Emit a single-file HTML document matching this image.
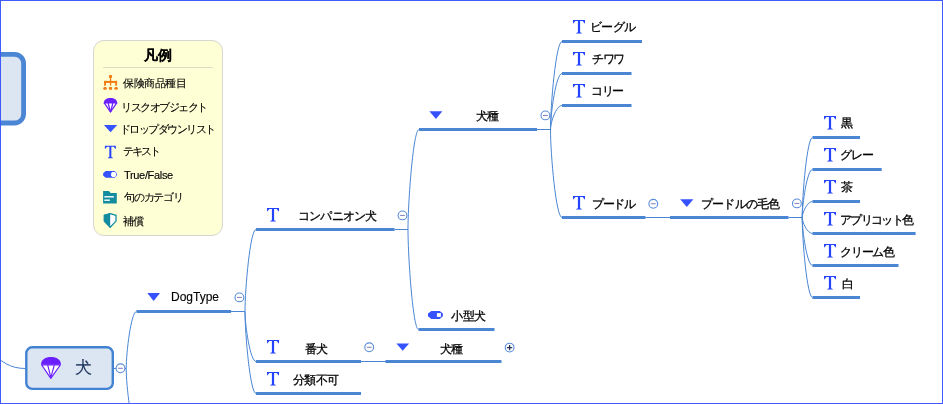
<!DOCTYPE html>
<html><head><meta charset="utf-8"><style>
html,body{margin:0;padding:0;background:#fff;}
body{width:943px;height:404px;position:relative;overflow:hidden;font-family:"Liberation Sans",sans-serif;}
.frame{position:absolute;left:0;top:0;width:941px;height:402px;border:1px solid #3f5bff;}
svg{position:absolute;left:0;top:0;}
.t{position:absolute;white-space:nowrap;will-change:transform;-webkit-text-stroke:0.3px currentColor;}
.lg{-webkit-text-stroke:0.12px currentColor !important;}
.n0{position:absolute;left:-30px;top:52px;width:51px;height:68px;border:5px solid #5089d6;border-radius:12px;background:#dce6f2;}
.root{position:absolute;left:25px;top:346px;width:83px;height:38px;border:3px solid #4f88d4;border-radius:7px;background:#dce6f2;}
.legend{position:absolute;left:93px;top:40px;width:128px;height:194px;border:1px solid #d6d6d2;border-radius:11px;background:#ffffd6;}
.sep{position:absolute;left:103px;top:67px;width:110px;height:1px;background:#dcdcc8;}
</style></head><body>
<div class="legend"></div>
<div class="sep"></div>
<svg width="943" height="404" viewBox="0 0 943 404">
<path d="M-12,350 C2,362 10,368.5 25.5,368.5" fill="none" stroke="#4a86d4" stroke-width="1"/>
<line x1="113.5" y1="368.5" x2="116" y2="368.5" stroke="#4a86d4" stroke-width="1"/>
<circle cx="120.5" cy="368.3" r="4.4" fill="#fff" stroke="#5a8dd8" stroke-width="1.1"/><line x1="118.1" y1="368.3" x2="122.9" y2="368.3" stroke="#7c7cbc" stroke-width="1"/>
<line x1="124.9" y1="368.5" x2="126.2" y2="368.5" stroke="#4a86d4" stroke-width="1"/>
<path d="M126.2,368.5 C126.2,352.54 131.14,311.5 136.5,311.5" fill="none" stroke="#4a86d4" stroke-width="1"/>
<path d="M126.2,368.5 C126.2,385.72 131.38,430 137,430" fill="none" stroke="#4a86d4" stroke-width="1"/>
<line x1="136.5" y1="311.5" x2="231" y2="311.5" stroke="#4a86d4" stroke-width="3"/>
<path fill="#3652ff" d="M147.3,292.9 H160.0 L153.65,300.9 Z"/>
<line x1="231" y1="311.5" x2="245" y2="311.5" stroke="#4a86d4" stroke-width="1"/>
<circle cx="239.4" cy="297.4" r="4.4" fill="#fff" stroke="#5a8dd8" stroke-width="1.1"/><line x1="237.0" y1="297.4" x2="241.8" y2="297.4" stroke="#7c7cbc" stroke-width="1"/>
<path d="M245,311.5 C245,288.54 250.28,229.5 256,229.5" fill="none" stroke="#4a86d4" stroke-width="1"/>
<path d="M245,311.5 C245,325.50 250.28,361.5 256,361.5" fill="none" stroke="#4a86d4" stroke-width="1"/>
<path d="M245,311.5 C245,334.46 250.28,393.5 256,393.5" fill="none" stroke="#4a86d4" stroke-width="1"/>
<line x1="256" y1="229.5" x2="394.5" y2="229.5" stroke="#4a86d4" stroke-width="3"/>
<path transform="translate(267,208)" fill="#2343ff" d="M0,0 H12 V3.8 L9.6,1.1 H7.1 V12.3 L8.8,12.9 V13.6 H3.2 V12.9 L4.9,12.3 V1.1 H2.4 L0,3.8 Z"/>
<line x1="394.5" y1="229.5" x2="408" y2="229.5" stroke="#4a86d4" stroke-width="1"/>
<circle cx="402.5" cy="215.4" r="4.4" fill="#fff" stroke="#5a8dd8" stroke-width="1.1"/><line x1="400.1" y1="215.4" x2="404.9" y2="215.4" stroke="#7c7cbc" stroke-width="1"/>
<path d="M408,229.5 C408,201.50 413.28,129.5 419,129.5" fill="none" stroke="#4a86d4" stroke-width="1"/>
<path d="M408,229.5 C408,257.50 413.04,329.5 418.5,329.5" fill="none" stroke="#4a86d4" stroke-width="1"/>
<line x1="419" y1="129.5" x2="537" y2="129.5" stroke="#4a86d4" stroke-width="3"/>
<path fill="#3652ff" d="M429.4,111.2 H442.4 L435.9,119.0 Z"/>
<line x1="537" y1="129.5" x2="550.5" y2="129.5" stroke="#4a86d4" stroke-width="1"/>
<circle cx="545.4" cy="115.4" r="4.4" fill="#fff" stroke="#5a8dd8" stroke-width="1.1"/><line x1="543.0" y1="115.4" x2="547.8" y2="115.4" stroke="#7c7cbc" stroke-width="1"/>
<path d="M550.5,129.5 C550.5,104.86 556.02,41.5 562,41.5" fill="none" stroke="#4a86d4" stroke-width="1"/>
<path d="M550.5,129.5 C550.5,113.82 556.02,73.5 562,73.5" fill="none" stroke="#4a86d4" stroke-width="1"/>
<path d="M550.5,129.5 C550.5,122.78 556.02,105.5 562,105.5" fill="none" stroke="#4a86d4" stroke-width="1"/>
<path d="M550.5,129.5 C550.5,154.14 556.02,217.5 562,217.5" fill="none" stroke="#4a86d4" stroke-width="1"/>
<line x1="562" y1="41.5" x2="642" y2="41.5" stroke="#4a86d4" stroke-width="3"/>
<path transform="translate(573,20.0)" fill="#2343ff" d="M0,0 H12 V3.8 L9.6,1.1 H7.1 V12.3 L8.8,12.9 V13.6 H3.2 V12.9 L4.9,12.3 V1.1 H2.4 L0,3.8 Z"/>
<line x1="562" y1="73.5" x2="631.5" y2="73.5" stroke="#4a86d4" stroke-width="3"/>
<path transform="translate(573,52.0)" fill="#2343ff" d="M0,0 H12 V3.8 L9.6,1.1 H7.1 V12.3 L8.8,12.9 V13.6 H3.2 V12.9 L4.9,12.3 V1.1 H2.4 L0,3.8 Z"/>
<line x1="562" y1="105.5" x2="631.5" y2="105.5" stroke="#4a86d4" stroke-width="3"/>
<path transform="translate(573,84.0)" fill="#2343ff" d="M0,0 H12 V3.8 L9.6,1.1 H7.1 V12.3 L8.8,12.9 V13.6 H3.2 V12.9 L4.9,12.3 V1.1 H2.4 L0,3.8 Z"/>
<line x1="562" y1="217.5" x2="645.5" y2="217.5" stroke="#4a86d4" stroke-width="3"/>
<path transform="translate(573,196.0)" fill="#2343ff" d="M0,0 H12 V3.8 L9.6,1.1 H7.1 V12.3 L8.8,12.9 V13.6 H3.2 V12.9 L4.9,12.3 V1.1 H2.4 L0,3.8 Z"/>
<line x1="645.5" y1="217.5" x2="670" y2="217.5" stroke="#4a86d4" stroke-width="1"/>
<circle cx="653.3" cy="203.8" r="4.4" fill="#fff" stroke="#5a8dd8" stroke-width="1.1"/><line x1="650.9" y1="203.8" x2="655.6999999999999" y2="203.8" stroke="#7c7cbc" stroke-width="1"/>
<line x1="670" y1="217.5" x2="788.5" y2="217.5" stroke="#4a86d4" stroke-width="3"/>
<path fill="#3652ff" d="M680.2,199.3 H693.4000000000001 L686.8000000000001,207.0 Z"/>
<line x1="788.5" y1="217.5" x2="802.2" y2="217.5" stroke="#4a86d4" stroke-width="1"/>
<circle cx="796.9" cy="203.4" r="4.4" fill="#fff" stroke="#5a8dd8" stroke-width="1.1"/><line x1="794.5" y1="203.4" x2="799.3" y2="203.4" stroke="#7c7cbc" stroke-width="1"/>
<path d="M802.2,217.5 C802.2,195.10 807.14,137.5 812.5,137.5" fill="none" stroke="#4a86d4" stroke-width="1"/>
<line x1="812.5" y1="137.5" x2="860" y2="137.5" stroke="#4a86d4" stroke-width="3"/>
<path transform="translate(824,116.0)" fill="#2343ff" d="M0,0 H12 V3.8 L9.6,1.1 H7.1 V12.3 L8.8,12.9 V13.6 H3.2 V12.9 L4.9,12.3 V1.1 H2.4 L0,3.8 Z"/>
<path d="M802.2,217.5 C802.2,204.06 807.14,169.5 812.5,169.5" fill="none" stroke="#4a86d4" stroke-width="1"/>
<line x1="812.5" y1="169.5" x2="881.7" y2="169.5" stroke="#4a86d4" stroke-width="3"/>
<path transform="translate(824,148.0)" fill="#2343ff" d="M0,0 H12 V3.8 L9.6,1.1 H7.1 V12.3 L8.8,12.9 V13.6 H3.2 V12.9 L4.9,12.3 V1.1 H2.4 L0,3.8 Z"/>
<path d="M802.2,217.5 C802.2,213.02 807.14,201.5 812.5,201.5" fill="none" stroke="#4a86d4" stroke-width="1"/>
<line x1="812.5" y1="201.5" x2="860" y2="201.5" stroke="#4a86d4" stroke-width="3"/>
<path transform="translate(824,180.0)" fill="#2343ff" d="M0,0 H12 V3.8 L9.6,1.1 H7.1 V12.3 L8.8,12.9 V13.6 H3.2 V12.9 L4.9,12.3 V1.1 H2.4 L0,3.8 Z"/>
<path d="M802.2,217.5 C802.2,221.98 807.14,233.5 812.5,233.5" fill="none" stroke="#4a86d4" stroke-width="1"/>
<line x1="812.5" y1="233.5" x2="915.6" y2="233.5" stroke="#4a86d4" stroke-width="3"/>
<path transform="translate(824,212.0)" fill="#2343ff" d="M0,0 H12 V3.8 L9.6,1.1 H7.1 V12.3 L8.8,12.9 V13.6 H3.2 V12.9 L4.9,12.3 V1.1 H2.4 L0,3.8 Z"/>
<path d="M802.2,217.5 C802.2,230.94 807.14,265.5 812.5,265.5" fill="none" stroke="#4a86d4" stroke-width="1"/>
<line x1="812.5" y1="265.5" x2="898.5" y2="265.5" stroke="#4a86d4" stroke-width="3"/>
<path transform="translate(824,244.0)" fill="#2343ff" d="M0,0 H12 V3.8 L9.6,1.1 H7.1 V12.3 L8.8,12.9 V13.6 H3.2 V12.9 L4.9,12.3 V1.1 H2.4 L0,3.8 Z"/>
<path d="M802.2,217.5 C802.2,239.90 807.14,297.5 812.5,297.5" fill="none" stroke="#4a86d4" stroke-width="1"/>
<line x1="812.5" y1="297.5" x2="860" y2="297.5" stroke="#4a86d4" stroke-width="3"/>
<path transform="translate(824,276.0)" fill="#2343ff" d="M0,0 H12 V3.8 L9.6,1.1 H7.1 V12.3 L8.8,12.9 V13.6 H3.2 V12.9 L4.9,12.3 V1.1 H2.4 L0,3.8 Z"/>
<line x1="418.5" y1="329.5" x2="494.5" y2="329.5" stroke="#4a86d4" stroke-width="3"/>
<path fill="#3652ff" d="M431.3,310.9 H439.7 L442.9,313.6 V316.2 L439.7,318.9 H431.3 L428,316.2 V313.6 Z"/><rect x="436.9" y="313.1" width="4" height="3.8" fill="#fff"/>
<line x1="256" y1="361.5" x2="361" y2="361.5" stroke="#4a86d4" stroke-width="3"/>
<path transform="translate(267,340)" fill="#2343ff" d="M0,0 H12 V3.8 L9.6,1.1 H7.1 V12.3 L8.8,12.9 V13.6 H3.2 V12.9 L4.9,12.3 V1.1 H2.4 L0,3.8 Z"/>
<line x1="361" y1="361.5" x2="386" y2="361.5" stroke="#4a86d4" stroke-width="1"/>
<circle cx="369.2" cy="347.3" r="4.4" fill="#fff" stroke="#5a8dd8" stroke-width="1.1"/><line x1="366.8" y1="347.3" x2="371.59999999999997" y2="347.3" stroke="#7c7cbc" stroke-width="1"/>
<line x1="385.5" y1="361.5" x2="501.5" y2="361.5" stroke="#4a86d4" stroke-width="3"/>
<path fill="#3652ff" d="M396.4,343.5 H409.09999999999997 L402.75,350.7 Z"/>
<circle cx="509.6" cy="347.6" r="4.4" fill="#fff" stroke="#5a8dd8" stroke-width="1.1"/><path d="M507.0,347.6 H512.2 M509.6,345.0 V350.20000000000005" stroke="#25304c" stroke-width="1.25"/>
<line x1="256" y1="393.5" x2="361" y2="393.5" stroke="#4a86d4" stroke-width="3"/>
<path transform="translate(267,372)" fill="#2343ff" d="M0,0 H12 V3.8 L9.6,1.1 H7.1 V12.3 L8.8,12.9 V13.6 H3.2 V12.9 L4.9,12.3 V1.1 H2.4 L0,3.8 Z"/>
<rect x="-30" y="54.4" width="53.6" height="68.6" rx="9" fill="#dce6f2" stroke="#4a86d4" stroke-width="4.8"/>
<rect x="26.3" y="347.3" width="86.5" height="41.6" rx="6" fill="#dce6f2" stroke="#4282d2" stroke-width="2.4"/>
<g transform="translate(41,357)">
<path fill="#6a1fff" d="M0,7.7 C0,2.5 4.5,0 10,0 C15.5,0 20,2.5 20,7.7 Z"/>
<path fill="#fff" stroke="#6a1fff" stroke-width="1.2" stroke-linejoin="round" d="M0.7,8 H19.3 L9.8,21.3 Z"/>
<path fill="none" stroke="#6a1fff" stroke-width="1.1" d="M6.7,8 L9.7,20 M13.3,8 L10,20"/>
</g>

<g fill="#f07c12">
<rect x="108.9" y="75.1" width="3.2" height="2.8" rx="1"/><rect x="109.9" y="77.5" width="1.3" height="4"/>
<rect x="104.1" y="80.9" width="13" height="2"/>
<rect x="104.1" y="80.9" width="1.9" height="4.8"/><rect x="115.2" y="80.9" width="1.9" height="4.8"/><rect x="109.9" y="80.9" width="1.3" height="4.8"/>
<path d="M103,88.4 L104,87 H106 L107,88.4 L106,89.8 H104 Z"/>
<rect x="108.9" y="86.9" width="3.2" height="2.9" rx="0.6"/>
<path d="M114.1,88.4 L115.1,87 H117.1 L118.1,88.4 L117.1,89.8 H115.1 Z"/>
</g>
<g transform="translate(103.7,98) scale(0.68)">
<path fill="#6a1fff" d="M0,7.7 C0,2.5 4.5,0 10,0 C15.5,0 20,2.5 20,7.7 L10,22 Z"/>
<path fill="#fff" d="M2.6,8.2 H17.4 L10,19 Z"/>
<path fill="none" stroke="#6a1fff" stroke-width="1.9" d="M6.6,7.5 L9.7,20 M13.4,7.5 L10.3,20"/>
</g>
<path fill="#3652ff" d="M103.9,124.9 H117.2 L110.55,132.3 Z"/>
<path transform="translate(104.9,145.8) scale(0.91,0.92)" fill="#2343ff" d="M0,0 H12 V3.8 L9.6,1.1 H7.1 V12.3 L8.8,12.9 V13.6 H3.2 V12.9 L4.9,12.3 V1.1 H2.4 L0,3.8 Z"/>
<path fill="#3652ff" d="M105.6,170.9 H114.6 L116.9,173.2 V175.5 L114.6,177.8 H105.6 L103.1,175.5 V173.2 Z"/>
<path fill="#fff" d="M112.2,172 H115 L116.1,173.3 V175.5 L115,176.9 H112.2 L111.1,175.5 V173.3 Z"/>
<g fill="#138c9f">
<path d="M103.1,191.1 H108.9 L110.7,193 H116.8 V203.6 H103.1 Z"/>
</g>
<rect x="104.3" y="196.1" width="9.6" height="1.4" fill="#fff"/><rect x="104.3" y="199.5" width="5.6" height="1.4" fill="#fff"/>
<g transform="translate(103.8,213.1)">
<path fill="#fff" stroke="#138c9f" stroke-width="1.3" d="M6.4,0.6 L12.2,2.2 V8 L6.4,14.2 L0.6,8 V2.2 Z"/>
<path fill="#138c9f" d="M6.4,0 L0,1.8 V8.3 L6.4,14.7 Z"/>
</g>

</svg>
<div class="t lg" style="left:171.00px;top:290.20px;font-size:12px;line-height:14px;color:#000;letter-spacing:-0.000px;">DogType</div>
<div class="t" style="left:298.00px;top:209.00px;font-size:12px;line-height:14px;color:#000;letter-spacing:-0.833px;">コンパニオン犬</div>
<div class="t" style="left:476.00px;top:109.00px;font-size:12px;line-height:14px;color:#000;letter-spacing:-1.000px;">犬種</div>
<div class="t" style="left:590.00px;top:19.50px;font-size:12px;line-height:14px;color:#000;letter-spacing:-0.667px;">ビーグル</div>
<div class="t" style="left:592.00px;top:51.50px;font-size:12px;line-height:14px;color:#000;letter-spacing:-1.500px;">チワワ</div>
<div class="t" style="left:591.00px;top:83.50px;font-size:12px;line-height:14px;color:#000;letter-spacing:-1.500px;">コリー</div>
<div class="t" style="left:592.00px;top:196.50px;font-size:12px;line-height:14px;color:#000;letter-spacing:-1.333px;">プードル</div>
<div class="t" style="left:700.50px;top:197.00px;font-size:12px;line-height:14px;color:#000;letter-spacing:-0.833px;">プードルの毛色</div>
<div class="t" style="left:841.00px;top:115.50px;font-size:12px;line-height:14px;color:#000;">黒</div>
<div class="t" style="left:840.00px;top:147.50px;font-size:12px;line-height:14px;color:#000;letter-spacing:-1.000px;">グレー</div>
<div class="t" style="left:841.00px;top:179.50px;font-size:12px;line-height:14px;color:#000;">茶</div>
<div class="t" style="left:840.00px;top:212.50px;font-size:12px;line-height:14px;color:#000;letter-spacing:-1.667px;">アプリコット色</div>
<div class="t" style="left:840.00px;top:244.50px;font-size:12px;line-height:14px;color:#000;letter-spacing:-1.250px;">クリーム色</div>
<div class="t" style="left:842.00px;top:276.50px;font-size:12px;line-height:14px;color:#000;">白</div>
<div class="t" style="left:451.00px;top:309.00px;font-size:12px;line-height:14px;color:#000;letter-spacing:-0.500px;">小型犬</div>
<div class="t" style="left:305.00px;top:342.00px;font-size:12px;line-height:14px;color:#000;letter-spacing:-1.000px;">番犬</div>
<div class="t" style="left:439.50px;top:342.00px;font-size:12px;line-height:14px;color:#000;letter-spacing:-1.000px;">犬種</div>
<div class="t" style="left:293.00px;top:373.00px;font-size:12px;line-height:14px;color:#000;letter-spacing:-0.667px;">分類不可</div>
<div class="t lg" style="left:74.60px;top:358.40px;font-size:17px;line-height:20px;color:#1a3058;">犬</div>
<div class="t lg" style="left:144.00px;top:46.00px;font-size:14px;line-height:18px;color:#000;letter-spacing:-0.000px;font-weight:bold;">凡例</div>
<div class="t lg" style="left:123.00px;top:76.30px;font-size:11px;line-height:14px;color:#000;letter-spacing:-0.400px;">保険商品種目</div>
<div class="t lg" style="left:121.00px;top:99.50px;font-size:11px;line-height:14px;color:#000;letter-spacing:-1.500px;">リスクオブジェクト</div>
<div class="t lg" style="left:120.00px;top:121.80px;font-size:11px;line-height:14px;color:#000;letter-spacing:-1.556px;">ドロップダウンリスト</div>
<div class="t lg" style="left:123.00px;top:144.00px;font-size:11px;line-height:14px;color:#000;letter-spacing:-2.000px;">テキスト</div>
<div class="t lg" style="left:124.00px;top:168.00px;font-size:11px;line-height:14px;color:#000;letter-spacing:-0.333px;">True/False</div>
<div class="t lg" style="left:124.00px;top:190.40px;font-size:11px;line-height:14px;color:#000;letter-spacing:-1.200px;">句のカテゴリ</div>
<div class="t lg" style="left:123.00px;top:214.00px;font-size:11px;line-height:14px;color:#000;letter-spacing:-1.000px;">補償</div>
<div class="frame"></div>
</body></html>
